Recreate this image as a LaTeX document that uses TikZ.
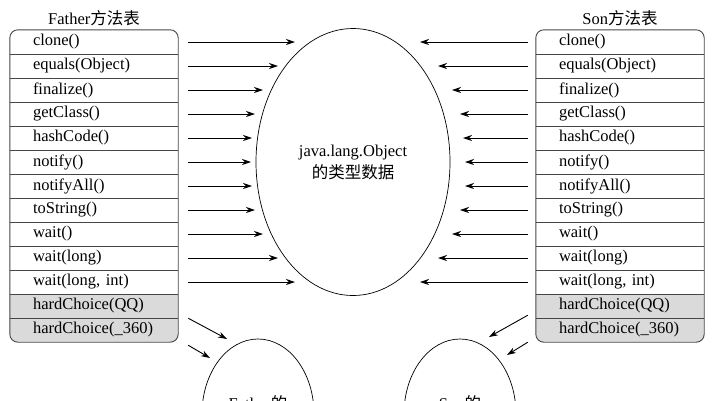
\documentclass[tikz,border=0pt]{standalone}
\usepackage{fontspec}
\setmainfont{Liberation Serif}
\newfontfamily\cjk{Noto Sans CJK SC}
\usepackage{tikz}
\usetikzlibrary{arrows.meta,positioning,shapes.geometric,backgrounds}
\definecolor{cellgray}{RGB}{218,218,218}
\definecolor{framegray}{RGB}{70,70,70}
\tikzstyle{method}=[rectangle, minimum height=24pt, text width=122pt,
		inner xsep=23pt, inner ysep=0pt, align=left]
\tikzstyle{frame}=[draw=framegray, line width=0.9pt]
\tikzstyle{arr}=[-{Stealth[length=9pt,width=6pt]}, line width=0.9pt]
\tikzstyle{data}=[ellipse, draw, line width=0.7pt, align=center, inner sep=0pt]

\begin{document}
\begin{tikzpicture}[x=1pt,y=-1pt,font=\fontsize{16.5}{22}\selectfont]
    \useasboundingbox (0,0) rectangle (719,400);

    % the two method tables
    \foreach \m [count=\i] in {clone(),equals(Object),finalize(),getClass(),
    		hashCode(),notify(),notifyAll(),toString(),wait(),wait(long),
    		{wait(long, int)},hardChoice(QQ),hardChoice(\_360)} {
      \node[method] (f\i) at (94,{18+24*\i}) {\m};
      \node[method] (s\i) at (620,{18+24*\i}) {\m};
    }

    \begin{scope}[on background layer]
      \begin{scope}
        \clip[rounded corners=8pt] (f1.north west) rectangle (f13.south east);
        \fill[cellgray] (f12.north west) rectangle (f13.south east);
      \end{scope}
      \begin{scope}
        \clip[rounded corners=8pt] (s1.north west) rectangle (s13.south east);
        \fill[cellgray] (s12.north west) rectangle (s13.south east);
      \end{scope}
    \end{scope}

    \foreach \t in {f,s} {
      \draw[frame, rounded corners=8pt] (\t1.north west) rectangle (\t13.south east);
      \foreach \i in {1,...,12} \draw[frame] (\t\i.south west) -- (\t\i.south east);
    }

    \node (ftitle) [above=0pt of f1] {Father{\cjk 方法表}};
    \node (stitle) [above=0pt of s1] {Son{\cjk 方法表}};

    \node (obj) [data, minimum width=194pt, minimum height=267pt] at (353,162)
    	{java.lang.Object\\{\cjk 的类型数据}};
    \node (fobj) [data, minimum width=112pt, minimum height=150pt] at (258,414)
    	{Father{\cjk 的}\\{\cjk 类型数据}};
    \node (sobj) [data, minimum width=112pt, minimum height=150pt] at (460,414)
    	{Son{\cjk 的}\\{\cjk 类型数据}};

    \foreach \i/\fx/\sx in {1/295/420, 2/278/438, 3/263/452, 4/255/460,
    		5/252/463, 6/251/465, 7/252/465, 8/255/460, 9/263/452,
    		10/278/438, 11/295/420} {
      \coordinate (fe\i) at (\fx,{18+24*\i});
      \coordinate (se\i) at (\sx,{18+24*\i});
      \draw[arr, shorten <=10pt] (f\i.east) -- (fe\i);
      \draw[arr, shorten <=8pt] (s\i.west) -- (se\i);
    }

    \coordinate (fa) at (227,339);
    \coordinate (fb) at (210,358);
    \coordinate (sa) at (489,337);
    \coordinate (sb) at (507,355);
    \draw[arr] ([xshift=10pt]f12.south east) -- (fa);
    \draw[arr] ([xshift=10pt,yshift=-3pt]f13.south east) -- (fb);
    \draw[arr] ([xshift=-8pt,yshift=3pt]s12.south west) -- (sa);
    \draw[arr] ([xshift=-8pt]s13.south west) -- (sb);

\end{tikzpicture}
\end{document}
